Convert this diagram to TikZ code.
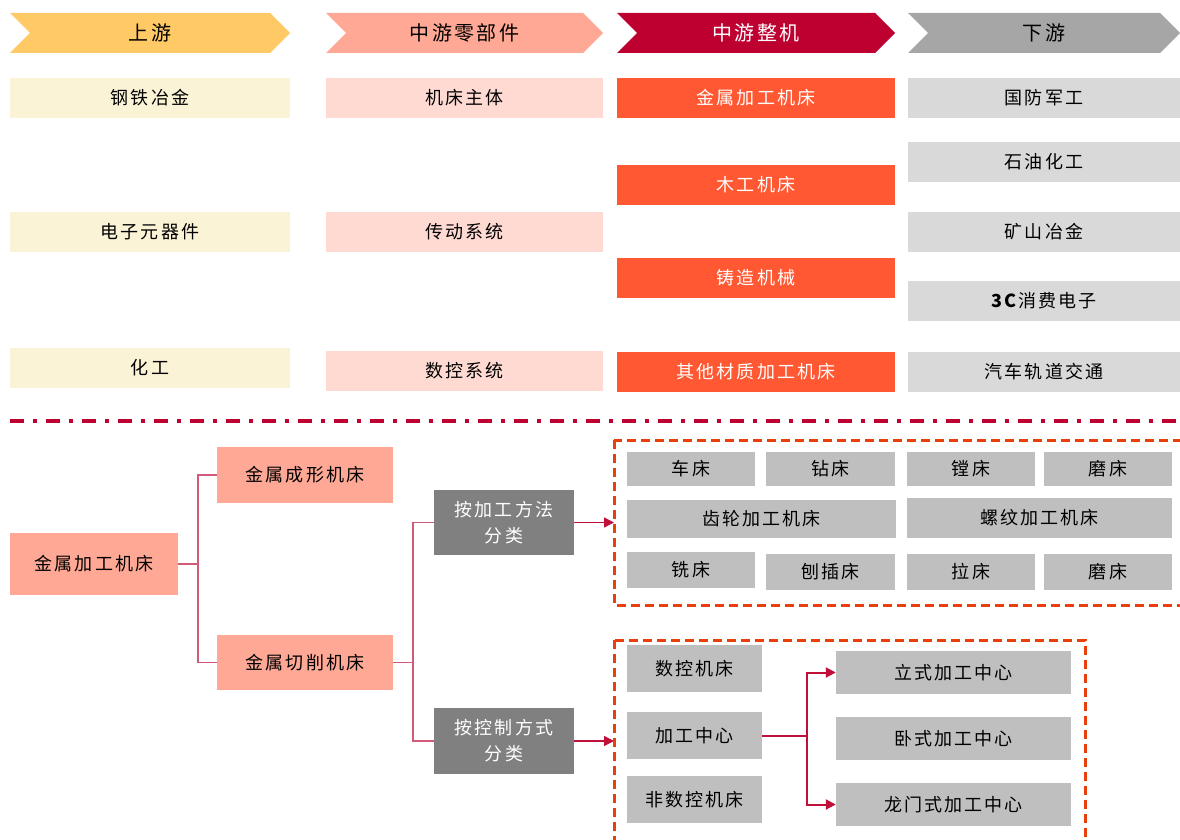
\documentclass[tikz,border=0pt]{standalone}
\usepackage{fontspec}
\setmainfont{Noto Sans CJK SC}[LetterSpace=12]
\usetikzlibrary{arrows.meta}
\definecolor{cYel}{HTML}{FFC966}
\definecolor{cYelL}{HTML}{FBF3D6}
\definecolor{cSal}{HTML}{FFA895}
\definecolor{cSalL}{HTML}{FFDAD3}
\definecolor{cRed}{HTML}{BE0030}
\definecolor{cOra}{HTML}{FF5833}
\definecolor{cGry}{HTML}{A6A6A6}
\definecolor{cGryL}{HTML}{D9D9D9}
\definecolor{cGry2}{HTML}{BFBFBF}
\definecolor{cDk}{HTML}{808080}
\definecolor{cLine}{HTML}{D05A78}
\definecolor{cArr}{HTML}{C0103A}
\definecolor{cDash}{HTML}{E8400C}
\tikzset{
  hdr/.style={font=\fontsize{20}{24}\selectfont},
  bx/.style={inner sep=0pt, font=\fontsize{18}{26}\selectfont, text=black},
  tline/.style={draw=cLine, line width=1.2pt},
  arr/.style={draw=cArr, line width=1.4pt, -{Triangle[length=10pt,width=10pt]}},
  dbox/.style={draw=cDash, line width=3pt, dash pattern=on 9pt off 5pt},
}
\newcommand{\chev}[6]{% name, x1, x2, fill, textcolor, text
  \fill[#4] (#2,13) -- (#3-20,13) -- (#3,33) -- (#3-20,53) -- (#2,53) -- (#2+20,33) -- cycle;
  \node[hdr, text=#5] (#1) at ({(#2+#3)/2},33) {#6};
}
\begin{document}
\begin{tikzpicture}[x=1pt,y=-1pt]
\useasboundingbox (0,0) rectangle (1180,840);
\clip (0,0) rectangle (1180,840);
% header chevrons
\chev{h1}{10}{290}{cYel}{black}{上游}
\chev{h2}{326}{603}{cSal}{black}{中游零部件}
\chev{h3}{617}{895}{cRed}{white}{中游整机}
\chev{h4}{908}{1180}{cGry}{black}{下游}
% column 1
\node[bx, fill=cYelL, minimum width=280, minimum height=40] (a1) at (150,98) {钢铁冶金};
\node[bx, fill=cYelL, minimum width=280, minimum height=40] (a2) at (150,232) {电子元器件};
\node[bx, fill=cYelL, minimum width=280, minimum height=40] (a3) at (150,367.5) {化工};
% column 2
\node[bx, fill=cSalL, minimum width=277, minimum height=40] (b1) at (464.5,98) {机床主体};
\node[bx, fill=cSalL, minimum width=277, minimum height=40] (b2) at (464.5,232) {传动系统};
\node[bx, fill=cSalL, minimum width=277, minimum height=40] (b3) at (464.5,371) {数控系统};
% column 3
\node[bx, fill=cOra, text=white, minimum width=278, minimum height=40] (c1) at (756,98) {金属加工机床};
\node[bx, fill=cOra, text=white, minimum width=278, minimum height=40] (c2) at (756,185) {木工机床};
\node[bx, fill=cOra, text=white, minimum width=278, minimum height=40] (c3) at (756,278) {铸造机械};
\node[bx, fill=cOra, text=white, minimum width=278, minimum height=40] (c4) at (756,372) {其他材质加工机床};
% column 4
\node[bx, fill=cGryL, minimum width=272, minimum height=40] (d1) at (1044,98) {国防军工};
\node[bx, fill=cGryL, minimum width=272, minimum height=40] (d2) at (1044,162) {石油化工};
\node[bx, fill=cGryL, minimum width=272, minimum height=40] (d3) at (1044,232) {矿山冶金};
\node[bx, fill=cGryL, minimum width=272, minimum height=40] (d4) at (1044,301) {\textbf{3C}消费电子};
\node[bx, fill=cGryL, minimum width=272, minimum height=40] (d5) at (1044,372) {汽车轨道交通};
% divider
\draw[cRed, line width=4pt, dash pattern=on 14pt off 9pt on 4pt off 9pt] (10,421) -- (1180,421);
% bottom tree
\node[bx, fill=cSal, minimum width=168, minimum height=62] (m0) at (94,564) {金属加工机床};
\node[bx, fill=cSal, minimum width=176, minimum height=56] (m1) at (305,475) {金属成形机床};
\node[bx, fill=cSal, minimum width=176, minimum height=55] (m2) at (305,662.5) {金属切削机床};
\node[bx, fill=cDk, text=white, minimum width=140, minimum height=65, align=center] (f1) at (504,522.5) {按加工方法\\分类};
\node[bx, fill=cDk, text=white, minimum width=140, minimum height=66, align=center] (f2) at (504,741) {按控制方式\\分类};
\coordinate (j1) at (198,564);
\coordinate (j2) at (413,662.5);
\draw[tline] (m0.east) -- (j1);
\draw[tline] (m1.west) -| (j1) |- (m2.west);
\draw[tline] (m2.east) -- (j2);
\draw[tline] (f1.west) -| (j2) |- (f2.west);
% dashed box 1
\draw[dbox] (614,440) rectangle (1195,605);
\coordinate (e1) at (614,522.5);
\coordinate (e2) at (614,741);
\draw[arr] (f1.east) -- (e1);
\draw[arr] (f2.east) -- (e2);
\node[bx, fill=cGry2, minimum width=128, minimum height=34] (g1) at (691,469) {车床};
\node[bx, fill=cGry2, minimum width=129, minimum height=34] (g2) at (830.5,469) {钻床};
\node[bx, fill=cGry2, minimum width=128, minimum height=34] (g3) at (971,469) {镗床};
\node[bx, fill=cGry2, minimum width=128, minimum height=34] (g4) at (1108,469) {磨床};
\node[bx, fill=cGry2, minimum width=269, minimum height=38] (g5) at (761.5,519) {齿轮加工机床};
\node[bx, fill=cGry2, minimum width=265, minimum height=40] (g6) at (1039.5,518) {螺纹加工机床};
\node[bx, fill=cGry2, minimum width=128, minimum height=36] (g7) at (691,570) {铣床};
\node[bx, fill=cGry2, minimum width=129, minimum height=36] (g8) at (830.5,572) {刨插床};
\node[bx, fill=cGry2, minimum width=128, minimum height=36] (g9) at (971,572) {拉床};
\node[bx, fill=cGry2, minimum width=128, minimum height=36] (g10) at (1108,572) {磨床};
% dashed box 2
\draw[dbox] (614,640) rectangle (1085,860);
\node[bx, fill=cGry2, minimum width=135, minimum height=47] (k1) at (694.5,668.5) {数控机床};
\node[bx, fill=cGry2, minimum width=135, minimum height=47] (k2) at (694.5,735.5) {加工中心};
\node[bx, fill=cGry2, minimum width=135, minimum height=47] (k3) at (694.5,799.5) {非数控机床};
\node[bx, fill=cGry2, minimum width=235, minimum height=43] (l1) at (953.5,672.5) {立式加工中心};
\node[bx, fill=cGry2, minimum width=235, minimum height=43] (l2) at (953.5,738.5) {卧式加工中心};
\node[bx, fill=cGry2, minimum width=235, minimum height=43] (l3) at (953.5,804.5) {龙门式加工中心};
\coordinate (j3) at (807,735.5);
\draw[cArr, line width=2pt] (k2.east) -- (j3);
\draw[arr, line width=2pt] (j3) |- (l1.west);
\draw[arr, line width=2pt] (j3) |- (l3.west);
\end{tikzpicture}
\end{document}
